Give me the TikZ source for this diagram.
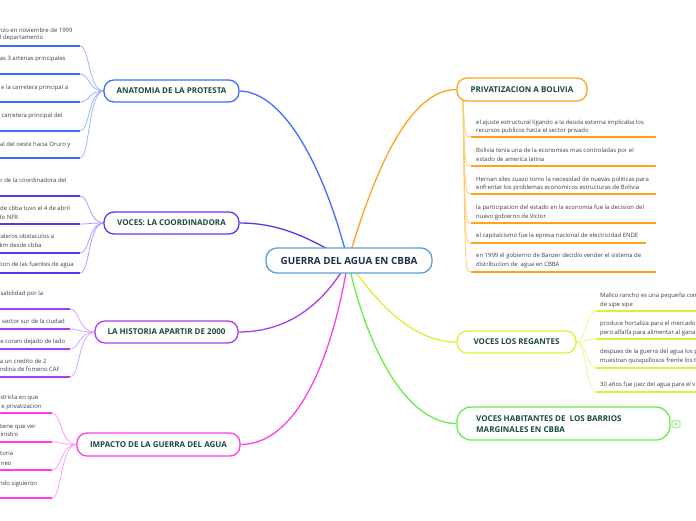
\documentclass[tikz,border=0pt]{standalone}
\usepackage{fontspec}
\setmainfont{Open Sans}
\usetikzlibrary{backgrounds,calc}
\definecolor{boxtxt}{HTML}{1B4A3C}
\definecolor{ctrtxt}{HTML}{1E3050}
\definecolor{itmtxt}{HTML}{3C3C3C}
\definecolor{ctrcol}{HTML}{5A9ED6}
\definecolor{cA}{HTML}{3F6EFF}
\definecolor{cAl}{HTML}{9DB5FF}
\definecolor{cB}{HTML}{5A36F0}
\definecolor{cBl}{HTML}{AE9CFF}
\definecolor{cC}{HTML}{A83CF0}
\definecolor{cCl}{HTML}{D6A4FF}
\definecolor{cD}{HTML}{FF3EE4}
\definecolor{cDl}{HTML}{FF9EF0}
\definecolor{cE}{HTML}{FFA21E}
\definecolor{cEl}{HTML}{FFCB74}
\definecolor{cF}{HTML}{D8F23A}
\definecolor{cFl}{HTML}{E9F992}
\definecolor{cG}{HTML}{66EE44}
\begin{document}
\begin{tikzpicture}[x=1pt,y=-1pt,
  box/.style={draw,rounded corners=10pt,line width=1.3pt,fill=white,inner sep=0pt,
    font=\fontsize{8}{9.5}\selectfont\bfseries,text=boxtxt},
  itmR/.style={anchor=base west,inner sep=0pt,font=\fontsize{5.95}{8.5}\selectfont,text=itmtxt},
  itmL/.style={anchor=base east,inner sep=0pt,font=\fontsize{5.95}{8.5}\selectfont,text=itmtxt},
  uline/.style={line width=2pt},
  sub/.style={line width=0.8pt},
  mainc/.style={line width=1.3pt}]
\clip (0,0) rectangle (696,520);

% ---------- main boxes ----------
\node[box,draw=ctrcol,rounded corners=11pt,minimum width=166pt,minimum height=25pt,
  font=\fontsize{9.9}{11}\selectfont\bfseries,text=ctrtxt] (ctr) at (349,260.5) {GUERRA DEL AGUA EN CBBA};
\node[box,draw=cA,minimum width=135pt,minimum height=22pt] (ana) at (171.5,91) {ANATOMIA DE LA PROTESTA};
\node[box,draw=cB,minimum width=135pt,minimum height=22pt] (coo) at (171.5,223) {VOCES: LA COORDINADORA};
\node[box,draw=cC,minimum width=143pt,minimum height=22pt] (his) at (166.5,332) {LA HISTORIA APARTIR DE 2000};
\node[box,draw=cD,minimum width=163pt,minimum height=23pt] (imp) at (158.5,444.5) {IMPACTO DE LA GUERRA DEL AGUA};
\node[box,draw=cE,minimum width=130pt,minimum height=23pt] (pri) at (522,89.5) {PRIVATIZACION A BOLIVIA};
\node[box,draw=cF,minimum width=119pt,minimum height=22pt] (reg) at (516.5,342) {VOCES LOS REGANTES};
\node[box,draw=cG,rounded corners=14pt,minimum width=213pt,minimum height=33pt] (hab) at (563.5,423.5) {};
\node[anchor=base west,inner sep=0pt,font=\fontsize{8}{9.5}\selectfont\bfseries,text=boxtxt] (habt1) at (476,421) {VOCES HABITANTES DE \ LOS BARRIOS};
\node[anchor=base west,inner sep=0pt,font=\fontsize{8}{9.5}\selectfont\bfseries,text=boxtxt] (habt2) at (476,432) {MARGINALES EN CBBA};
\node[draw=cG,line width=0.6pt,rounded corners=1pt,minimum width=8pt,minimum height=6.5pt,inner sep=0pt,
  font=\fontsize{4}{4}\selectfont,text=gray] (cnt) at (676,424) {4};

% ---------- underline end coordinates ----------
\foreach \n/\y in {a1/46,a2/74,a3/102,a4/131,a5/158}{\coordinate (\n) at (80,\y);\coordinate (\n x) at (-5,\y);}
\foreach \n/\y in {b1/196,b2/224,b3/253,b4/273}{\coordinate (\n) at (80,\y);\coordinate (\n x) at (-5,\y);}
\foreach \n/\y in {c1/309,c2/329,c3/349,c4/377}{\coordinate (\n) at (70,\y);\coordinate (\n x) at (-5,\y);}
\foreach \n/\y in {d1/413,d2/442,d3/470,d4/498}{\coordinate (\n) at (52,\y);\coordinate (\n x) at (-5,\y);}
\foreach \n/\y in {e1/137,e2/166,e3/194,e4/223,e6/272}{\coordinate (\n) at (471,\y);\coordinate (\n x) at (656,\y);}
\coordinate (e5) at (471,243);\coordinate (e5x) at (646,243);
\foreach \n/\y in {f1/311,f2/339,f3/368,f4/392}{\coordinate (\n) at (596,\y);\coordinate (\n x) at (700,\y);}
\coordinate (aL) at (104,91);
\coordinate (bL) at (104,223);
\coordinate (cL) at (95,332);
\coordinate (dL) at (77,444.5);
\coordinate (eT) at (463,100);
\coordinate (fR) at (576,342);
\coordinate (o) at (348,261);

\begin{scope}[on background layer]
\draw[mainc,cA] (o) .. controls (325,170) and (285,92) .. (ana.east);
\draw[mainc,cB] (o) .. controls (310,238) and (280,223) .. (coo.east);
\draw[mainc,cC] (o) .. controls (325,302) and (290,332) .. (his.east);
\draw[mainc,cD] (o) .. controls (330,372) and (292,444.5) .. (imp.east);
\draw[mainc,cE] (o) .. controls (375,168) and (410,89.5) .. (pri.west);
\draw[mainc,cF] (o) .. controls (376,302) and (412,342) .. (reg.west);
\draw[mainc,cG] (o) .. controls (370,362) and (412,423.5) .. (hab.west);
\foreach \n in {a1,a2,a3,a4,a5}{\draw[sub,cAl] (\n) .. controls ($(\n)+(10,0)$) and (88,91) .. (aL);}
\foreach \n in {b1,b2,b3,b4}{\draw[sub,cBl] (\n) .. controls ($(\n)+(10,0)$) and (88,223) .. (bL);}
\foreach \n in {c1,c2,c3,c4}{\draw[sub,cCl] (\n) .. controls ($(\n)+(10,0)$) and (78,332) .. (cL);}
\foreach \n in {d1,d2,d3,d4}{\draw[sub,cDl] (\n) .. controls ($(\n)+(10,0)$) and (60,444.5) .. (dL);}
\foreach \n/\y in {e1/137,e2/166,e3/194,e4/223,e5/243,e6/272}{\draw[sub,cEl] (eT) .. controls (465,\y) and (465,\y) .. (\n);}
\foreach \n/\y in {f1/311,f2/339,f3/368,f4/392}{\draw[sub,cFl] (fR) .. controls (587,342) and (586,\y) .. (\n);}
\end{scope}

\foreach \n in {a1,a2,a3,a4,a5}{\draw[uline,cA] (\n x) -- (\n);}
\foreach \n in {b1,b2,b3,b4}{\draw[uline,cB] (\n x) -- (\n);}
\foreach \n in {c1,c2,c3,c4}{\draw[uline,cC] (\n x) -- (\n);}
\foreach \n in {d1,d2,d3,d4}{\draw[uline,cD] (\n x) -- (\n);}
\foreach \n in {e1,e2,e3,e4,e5,e6}{\draw[uline,cE] (\n) -- (\n x);}
\foreach \n in {f1,f2,f3,f4}{\draw[uline,cF] (\n) -- (\n x);}

% ---------- left item texts ----------
\node[itmL] (ta1) at (72.7,32) {nzo en noviembre de 1999};
\node[itmL] (ta1b) at (43.3,39.5) {l departamento};
\node[itmL] (ta2) at (65.7,60) {as 3 arterias principales};
\node[itmL] (ta3) at (68.3,89) {e la carretera principal a};
\node[itmL] (ta4) at (62.7,117) {carretera principal del};
\node[itmL] (ta5) at (70.7,146) {al del oeste hacia Oruro y};

\node[itmL] (tb1) at (66.7,182) {r de la coordinadora del};
\node[itmL] (tb2) at (70,210) {de cbba tuvo el 4 de abril};
\node[itmL] (tb2b) at (18.3,219) {do NFR};
\node[itmL] (tb3) at (54.3,238) {caleros obstaculos a};
\node[itmL] (tb3b) at (41.7,247) {km desde cbba};
\node[itmL] (tb4) at (74,266) {cion de las fuentes de agua};

\node[itmL] (tc1) at (43.3,295) {nsabilidad por la};
\node[itmL] (tc2) at (65,323) {sector sur de la ciudad};
\node[itmL] (tc3) at (65.3,343) {e corani dejado de lado};
\node[itmL] (tc4) at (46.7,363) {a un credito de 2};
\node[itmL] (tc4b) at (60,371) {ndina de fomeno CAF};

\node[itmL] (td1) at (38.3,399) {stricta en que};
\node[itmL] (td1b) at (41.7,408) {e privatizacion};
\node[itmL] (td2) at (36,428) {tiene que ver};
\node[itmL] (td2b) at (18.3,436) {inistro};
\node[itmL] (td3) at (13.3,455) {toria};
\node[itmL] (td3b) at (11.7,465) {neo};
\node[itmL] (td4) at (37.3,485) {ndo siguieron};

% ---------- right item texts ----------
\node[itmR] (te1) at (476,124) {el ajuste estructural ligando a la deuda externa implicaba los};
\node[itmR] (te1b) at (476,132.5) {recursos publicos hacia el sector privado};
\node[itmR] (te2) at (476,152) {Bolivia tenia una de la economias mas controladas por el};
\node[itmR] (te2b) at (476,161) {estado de america latina};
\node[itmR] (te3) at (476,181) {Hernan siles zuazo tomo la necesidad de nuevas politicas para};
\node[itmR] (te3b) at (476,189.5) {enfrentar los problemas economicos estructuras de Bolivia};
\node[itmR] (te4) at (476,209.5) {la participacion del estado en la economia fue la decision del};
\node[itmR] (te4b) at (476,218) {nuevo gobierno de Victor};
\node[itmR] (te5) at (476,237.5) {el capitalcismo fue la epresa nacional de electricidad ENDE};
\node[itmR] (te6) at (476,257.5) {en 1999 el gobierno de Banzer decidio vender el sistema de};
\node[itmR] (te6b) at (476,266) {distribucion de \ agua en CBBA};

\node[itmR] (tf1) at (600,297) {Mallco rancho es una pequeña com};
\node[itmR] (tf1b) at (600,306) {de sipe sipe};
\node[itmR] (tf2) at (600,325.5) {produce hortaliza para el mercado};
\node[itmR] (tf2b) at (600,334) {pero alfalfa para alimentar al gana};
\node[itmR] (tf3) at (600,353.5) {despues de la guerra del agua los p};
\node[itmR] (tf3b) at (600,362.5) {muestran quisquillosos frente los t};
\node[itmR] (tf4) at (600,386) {30 años fue juez del agua para el v};
\end{tikzpicture}
\end{document}
